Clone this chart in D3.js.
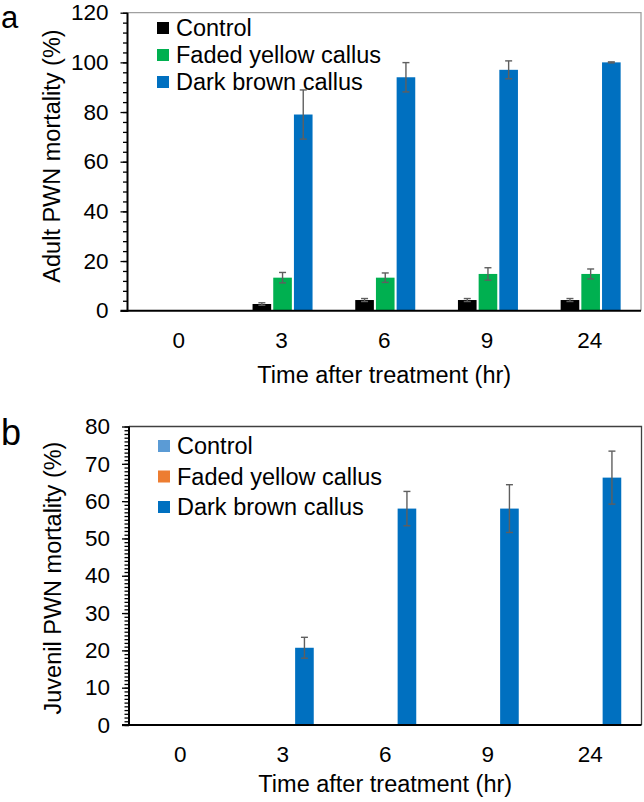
<!DOCTYPE html>
<html>
<head>
<meta charset="utf-8">
<script src="https://cdn.jsdelivr.net/npm/d3@7"></script>
<style>
  html, body { margin: 0; padding: 0; background: #fff; }
  svg { display: block; }
  text { font-family: "Liberation Sans", Arial, sans-serif; fill: #000; }
</style>
</head>
<body>
<svg id="chart" width="644" height="802"></svg>
<script>
// ---------- data ----------
const categories = ["0", "3", "6", "9", "24"];
const seriesNames = ["Control", "Faded yellow callus", "Dark brown callus"];

const adultControl    = [0, 2.7, 4.3, 4.3, 4.3];
const adultControlErr = [0, 0.5, 0.6, 0.6, 0.6];
const adultFaded      = [0, 13.3, 13.3, 14.8, 14.8];
const adultFadedErr   = [0, 2.1, 1.9, 2.5, 2.0];
const adultDark       = [0, 79.0, 94.0, 97.0, 100.0];
const adultDarkErr    = [0, 9.9, 5.9, 3.6, 0.2];

const juvControl    = [0, 0, 0, 0, 0];
const juvControlErr = [0, 0, 0, 0, 0];
const juvFaded      = [0, 0, 0, 0, 0];
const juvFadedErr   = [0, 0, 0, 0, 0];
const juvDark       = [0, 20.7, 58.0, 58.0, 66.3];
const juvDarkErr    = [0, 2.8, 4.6, 6.4, 7.1];

const adultTicks = [0, 20, 40, 60, 80, 100, 120];
const juvTicks = [0, 10, 20, 30, 40, 50, 60, 70, 80];

const adultColors = ["#000000", "#00B050", "#0070C0"];
const juvColors = ["#5B9BD5", "#ED7D31", "#0070C0"];

// ---------- drawing ----------
const svg = d3.select("#chart");
const FONT_TICK = 22.5, FONT_TITLE = 23.5, FONT_LEG = 23.5;

function panel(cfg) {
  const g = svg.append("g");
  const x = d3.scaleBand().domain(categories).range([cfg.left, cfg.right]).padding(0);
  const inner = d3.scaleBand().domain(seriesNames).range([-29, 31]).paddingInner(0.1);
  const y = d3.scaleLinear().domain([0, cfg.max]).range([cfg.bottom, cfg.top]);

  // frame top/right
  g.append("path")
    .attr("d", `M${cfg.left},${cfg.top}H${cfg.right}V${cfg.bottom}`)
    .attr("fill", "none").attr("stroke", cfg.frameColor).attr("stroke-width", 1.3);

  // bars
  cfg.series.forEach((s, si) => {
    const name = seriesNames[si];
    g.append("g").selectAll("rect")
      .data(categories.map((c, i) => ({ c, v: s.vals[i], e: s.errs[i] })))
      .join("rect")
      .attr("x", d => x(d.c) + x.bandwidth() / 2 + inner(name))
      .attr("width", inner.bandwidth())
      .attr("y", d => y(d.v))
      .attr("height", d => y(0) - y(d.v))
      .attr("fill", cfg.colors[si]);
  });

  // error bars
  cfg.series.forEach((s, si) => {
    const name = seriesNames[si];
    const data = categories.map((c, i) => ({ c, v: s.vals[i], e: s.errs[i] })).filter(d => d.v > 0);
    const eg = g.append("g").attr("stroke", "#5f5f5f").attr("stroke-width", 1.4).attr("fill", "none");
    data.forEach(d => {
      const cx = x(d.c) + x.bandwidth() / 2 + inner(name) + inner.bandwidth() / 2;
      const y1 = y(d.v + d.e), y2 = y(Math.max(0, d.v - d.e));
      eg.append("line").attr("x1", cx).attr("x2", cx).attr("y1", y1).attr("y2", y2);
      eg.append("line").attr("x1", cx - 3.5).attr("x2", cx + 3.5).attr("y1", y1).attr("y2", y1);
      eg.append("line").attr("x1", cx - 3.5).attr("x2", cx + 3.5).attr("y1", y2).attr("y2", y2);
    });
  });

  // minor ticks
  const minorAxis = d3.axisLeft(y).tickValues(cfg.minor).tickSize(4.5).tickFormat("");
  const mg = g.append("g").attr("transform", `translate(${cfg.left},0)`).call(minorAxis);
  mg.select(".domain").remove();
  mg.selectAll("line").attr("stroke", "#000").attr("stroke-width", 1.3);

  // major ticks + labels
  const majorAxis = d3.axisLeft(y).tickValues(cfg.ticks).tickSize(7).tickPadding(12).tickFormat(d3.format("d"));
  const ag = g.append("g").attr("transform", `translate(${cfg.left},0)`).call(majorAxis);
  ag.attr("font-size", null).attr("font-family", null);
  ag.select(".domain").remove();
  ag.selectAll("line").attr("stroke", "#000").attr("stroke-width", 1.3);
  ag.selectAll("text").style("font-size", FONT_TICK + "px").attr("fill", "#000");

  // axis lines
  g.append("line").attr("x1", cfg.left).attr("x2", cfg.left).attr("y1", cfg.top).attr("y2", cfg.bottom + 1)
    .attr("stroke", "#000").attr("stroke-width", 2);
  g.append("line").attr("x1", cfg.left - 7).attr("x2", cfg.right).attr("y1", cfg.bottom).attr("y2", cfg.bottom)
    .attr("stroke", "#000").attr("stroke-width", 2);

  // x labels
  const xAxis = d3.axisBottom(x).tickSize(0).tickPadding(21);
  const xg = g.append("g").attr("transform", `translate(0,${cfg.bottom})`).call(xAxis);
  xg.attr("font-size", null).attr("font-family", null);
  xg.select(".domain").remove();
  xg.selectAll("text").style("font-size", FONT_TICK + "px").attr("fill", "#000");

  // titles
  g.append("text").attr("x", (cfg.left + cfg.right) / 2).attr("y", cfg.xTitleY)
    .attr("text-anchor", "middle").style("font-size", FONT_TITLE + "px").text("Time after treatment (hr)");
  g.append("text")
    .attr("transform", `translate(${cfg.yTitleX},${cfg.yTitleCY}) rotate(-90)`)
    .attr("text-anchor", "middle").style("font-size", FONT_TITLE + "px").text(cfg.yTitle);

  // panel letter
  g.append("text").attr("x", 1).attr("y", cfg.letterY).style("font-size", cfg.letterSize + "px").text(cfg.letter);

  // legend
  const lg = g.append("g");
  seriesNames.forEach((n, i) => {
    const cy = cfg.legY + i * cfg.legStep;
    lg.append("rect").attr("x", cfg.legX).attr("y", cy - 6).attr("width", 12).attr("height", 12)
      .attr("fill", cfg.colors[i]);
    lg.append("text").attr("x", cfg.legX + 19).attr("y", cy + 8).style("font-size", FONT_LEG + "px").text(n);
  });
}

panel({
  left: 127.5, right: 641, top: 12.7, bottom: 310.7, max: 120,
  ticks: adultTicks, minor: d3.range(0, 121, 4),
  colors: adultColors, frameColor: "#a0a0a0",
  series: [
    { vals: adultControl, errs: adultControlErr },
    { vals: adultFaded, errs: adultFadedErr },
    { vals: adultDark, errs: adultDarkErr }
  ],
  xTitleY: 383, yTitleX: 60, yTitleCY: 156, yTitle: "Adult PWN mortality (%)",
  letter: "a", letterY: 28, letterSize: 31,
  legX: 157, legY: 28, legStep: 27
});

panel({
  left: 129, right: 641.5, top: 426.5, bottom: 725, max: 80,
  ticks: juvTicks, minor: d3.range(0, 81, 1),
  colors: juvColors, frameColor: "#404040",
  series: [
    { vals: juvControl, errs: juvControlErr },
    { vals: juvFaded, errs: juvFadedErr },
    { vals: juvDark, errs: juvDarkErr }
  ],
  xTitleY: 792, yTitleX: 61, yTitleCY: 578, yTitle: "Juvenil PWN mortality (%)",
  letter: "b", letterY: 445, letterSize: 36,
  legX: 158, legY: 446, legStep: 30.5
});
</script>
</body>
</html>
